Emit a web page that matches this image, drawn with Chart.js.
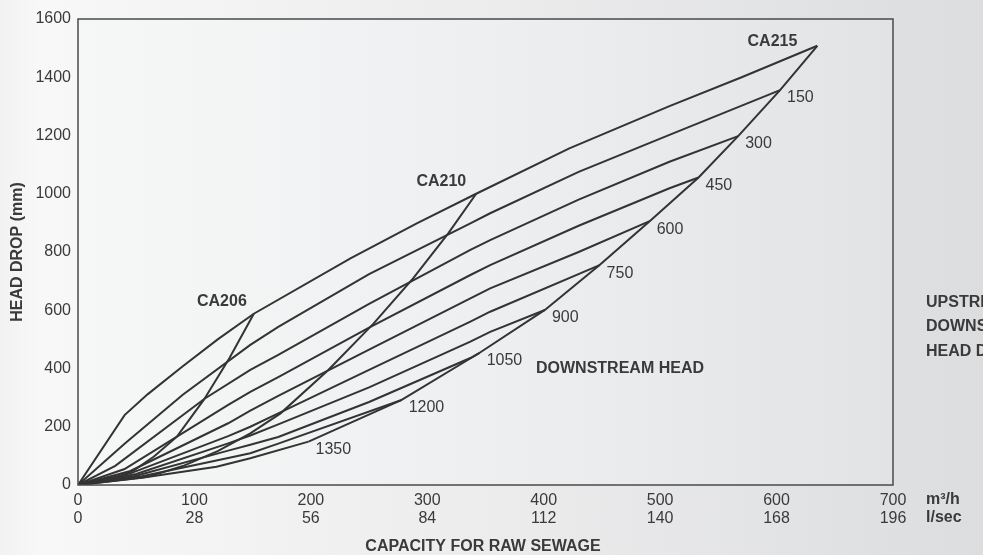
<!DOCTYPE html>
<html>
<head>
<meta charset="utf-8">
<script src="https://cdn.jsdelivr.net/npm/chart.js@4.4.1/dist/chart.umd.min.js"></script>
<style>
  html, body { margin: 0; padding: 0; }
  body {
    width: 983px; height: 555px; overflow: hidden;
    background: linear-gradient(to right, #f2f2f2 0%, #f8f8f8 4%, #ececed 50%, #dcdddf 100%);
  }
  #wrap { position: relative; width: 983px; height: 555px; }
</style>
</head>
<body>
<div id="wrap"><canvas id="headChart"></canvas></div>
<script>
// tick labels: capacity in m3/h and the same in l/sec
const qTicks = [0, 100, 200, 300, 400, 500, 600, 700];
const lsTicks = [0, 28, 56, 84, 112, 140, 168, 196];

// downstream head (mm) for each curve, top curve first
const headLabels = ['0', '150', '300', '450', '600', '750', '900', '1050', '1200', '1350'];

// [capacity m3/h, head drop mm]
const head0 = [[0,0],[40,240],[60,312],[90,408],[120,500],[151,588],[234,778],[291,898],[342,1000],[422,1156],[508,1301],[570,1400],[635,1508]];
const head150 = [[0,0],[40,142],[90,310],[148,481],[172,543],[250,724],[337,898],[354,933],[430,1075],[508,1202],[603,1356]];
const head300 = [[0,0],[32,66],[109,297],[148,395],[172,447],[250,622],[337,807],[354,841],[430,980],[508,1110],[567,1198]];
const head450 = [[0,0],[40,55],[129,275],[148,320],[172,370],[250,540],[337,721],[354,755],[430,890],[508,1019],[533,1056]];
const head600 = [[0,0],[45,48],[129,212],[148,255],[172,306],[250,465],[337,641],[354,675],[430,800],[491,906]];
const head750 = [[0,0],[45,40],[129,168],[148,200],[172,246],[250,395],[337,561],[354,595],[448,755]];
const head900 = [[0,0],[50,38],[129,143],[148,170],[172,208],[250,335],[337,492],[354,526],[401,601]];
const head1050 = [[0,0],[50,32],[129,118],[148,138],[172,165],[250,285],[337,436],[345,454]];
const head1200 = [[0,0],[55,30],[129,93],[148,109],[172,142],[278,292]];
const head1350 = [[0,0],[55,25],[119,63],[148,92],[198,149]];

// max capacity curves of the smaller models
const ca206 = [[0,0],[30,22],[48,50],[65,97],[85,166],[108,292],[130,435],[151,588]];
const ca210 = [[0,0],[60,28],[90,65],[120,116],[148,177],[174,246],[215,395],[254,555],[288,710],[318,864],[342,1000]];

const headLines = [head0, head150, head300, head450, head600, head750, head900, head1050, head1200, head1350];
// CA215 limit runs through the end of every head curve
const ca215 = headLines.map(l => l[l.length - 1]).reverse();

const FONT = '"Liberation Sans", Arial, Helvetica, sans-serif';
const INK = '#3a3a3a';

function toPts(arr) {
    return arr.map(p => ({ x: p[0], y: p[1] }));
}

function lineSet(arr) {
    return {
        data: toPts(arr),
        showLine: true,
        borderColor: '#333',
        borderWidth: 2,
        pointRadius: 0,
        fill: false,
        tension: 0
    };
}

const datasets = headLines.map(lineSet)
    .concat([lineSet(ca206), lineSet(ca210), lineSet(ca215)]);

//plot fill, frame and all the free text
const decor = {
    id: 'decor',
    beforeDatasetsDraw(chart) {
        const a = chart.chartArea;
        const ctx = chart.ctx;
        const g = ctx.createLinearGradient(a.left, 0, a.right, 0);
        g.addColorStop(0, '#f6f7f7');
        g.addColorStop(0.5, '#eeeff0');
        g.addColorStop(1, '#e2e3e5');
        ctx.save();
        ctx.fillStyle = g;
        ctx.fillRect(a.left, a.top, a.right - a.left, a.bottom - a.top);
        ctx.restore();
    },
    afterDatasetsDraw(chart) {
        const a = chart.chartArea;
        const ctx = chart.ctx;
        const xs = chart.scales.x, ys = chart.scales.y;
        ctx.save();
        ctx.strokeStyle = '#4a4a4a';
        ctx.lineWidth = 1.5;
        ctx.strokeRect(a.left, a.top, a.right - a.left, a.bottom - a.top);

        ctx.fillStyle = INK;
        ctx.textBaseline = 'middle';

        // downstream head numbers at the curve ends
        ctx.font = '16px ' + FONT;
        ctx.textAlign = 'left';
        headLines.forEach((l, i) => {
            if (i === 0) return;
            const p = l[l.length - 1];
            ctx.fillText(headLabels[i], xs.getPixelForValue(p[0]) + 7, ys.getPixelForValue(p[1]) + 8);
        });

        // model names
        ctx.font = 'bold 16px ' + FONT;
        ctx.textAlign = 'right';
        const models = [
            ['CA206', ca206[ca206.length - 1], -7, -12],
            ['CA210', ca210[ca210.length - 1], -10, -12],
            ['CA215', ca215[ca215.length - 1], -20, -4]
        ];
        models.forEach(m => {
            ctx.fillText(m[0], xs.getPixelForValue(m[1][0]) + m[2], ys.getPixelForValue(m[1][1]) + m[3]);
        });

        ctx.textAlign = 'left';
        ctx.fillText('DOWNSTREAM HEAD', 536, 369);
        ctx.fillText('UPSTREAM HEAD', 926, 303);
        ctx.fillText('DOWNSTREAM HEAD', 926, 327);
        ctx.fillText('HEAD DROP', 926, 352);
        ctx.fillText('m³/h', 926, 500);
        ctx.fillText('l/sec', 926, 518);

        ctx.textAlign = 'center';
        ctx.fillText('CAPACITY FOR RAW SEWAGE', 483, 547);

        ctx.translate(18, 252);
        ctx.rotate(-Math.PI / 2);
        ctx.fillText('HEAD DROP (mm)', 0, 0);
        ctx.restore();
    }
};

new Chart(document.getElementById('headChart'), {
    type: 'scatter',
    data: { datasets: datasets },
    options: {
        responsive: true,
        maintainAspectRatio: false,
        animation: false,
        layout: { padding: { top: 19, right: 90, left: 0, bottom: 0 } },
        plugins: {
            legend: { display: false },
            tooltip: { enabled: false }
        },
        scales: {
            x: {
                type: 'linear',
                min: 0,
                max: 700,
                afterFit: s => { s.height = 70; },
                grid: { display: false, drawTicks: false },
                border: { display: false },
                ticks: {
                    stepSize: 100,
                    padding: 6,
                    autoSkip: false,
                    maxRotation: 0,
                    color: INK,
                    font: { family: FONT, size: 16, lineHeight: 1.15 },
                    callback: (v, i) => [String(qTicks[i]), String(lsTicks[i])]
                }
            },
            y: {
                min: 0,
                max: 1600,
                afterFit: s => { s.width = 78; },
                grid: { display: false, drawTicks: false },
                border: { display: false },
                ticks: {
                    stepSize: 200,
                    padding: 7,
                    color: INK,
                    font: { family: FONT, size: 16 },
                    callback: v => String(v)
                }
            }
        }
    },
    plugins: [decor]
});
</script>
</body>
</html>
